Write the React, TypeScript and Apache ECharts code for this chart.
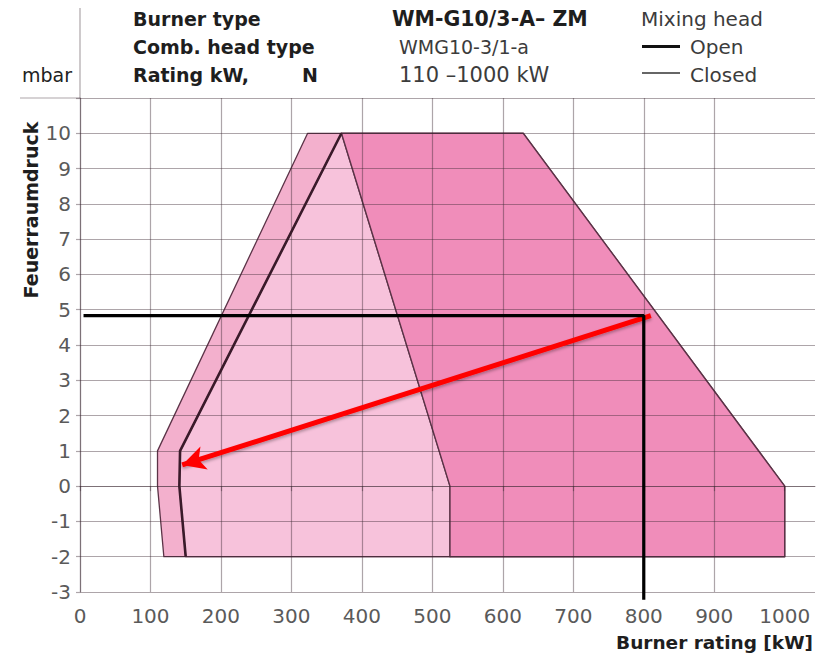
import React, { useEffect, useRef } from "react";
import * as echarts from "echarts";

// ---- data ----
const xTicks = [0, 100, 200, 300, 400, 500, 600, 700, 800, 900, 1000];
const yTicks = [-3, -2, -1, 0, 1, 2, 3, 4, 5, 6, 7, 8, 9, 10];

// outer envelope (left outer boundary + top + right boundary)
const envelopeX = [119, 110, 110, 323, 629, 1000, 1000];
const envelopeY = [-2, 0, 1, 10, 10, 0, -2];
// thick line "Open"
const openLineX = [150, 141, 142, 371];
const openLineY = [-2, 0, 1, 10];
// thin line "Closed"
const closedLineX = [371, 525, 525];
const closedLineY = [10, 0, -2];
// right boundary of the working field
const rightEdgeX = [629, 1000, 1000];
const rightEdgeY = [10, 0, -2];

// operating point construction
const opPointX = 800;
const opPointY = 4.83;
const hLineStartX = 5;
const vLineEndY = -3.22;
const arrowFrom = [810, 4.83];
const arrowTo = [145, 0.6];

const zip = (xs: number[], ys: number[]) => xs.map((x, i) => [x, ys[i]]);

const GRID_COLOR = "rgba(60,40,50,0.42)";
const FONT = '"DejaVu Sans", "Liberation Sans", sans-serif';

export default function App() {
  const ref = useRef<HTMLDivElement>(null);

  useEffect(() => {
    if (!ref.current) return;
    const chart = echarts.init(ref.current, undefined, { renderer: "svg" });

    const envelope = zip(envelopeX, envelopeY);
    const openLine = zip(openLineX, openLineY);
    const closedLine = zip(closedLineX, closedLineY);
    const rightEdge = zip(rightEdgeX, rightEdgeY);
    const highRegion = [closedLine[0], ...rightEdge, ...closedLine.slice(1).reverse()];
    const midRegion = [...openLine, ...closedLine.slice(1)];

    const poly = (pts: number[][], fill: string, stroke: string, lw: number) => ({
      type: "custom",
      z: 1,
      silent: true,
      data: [[0, 0]],
      renderItem: (_p: any, api: any) => ({
        type: "polygon",
        shape: { points: pts.map((p) => api.coord(p)) },
        style: { fill, stroke, lineWidth: lw, lineJoin: "round" },
      }),
    });

    const headerBold = (text: string, x: number, y: number, size = 19) => ({
      type: "text",
      x,
      y,
      style: { text, fill: "#1e1e1e", font: `bold ${size}px ${FONT}`, textVerticalAlign: "middle" },
    });
    const headerReg = (text: string, x: number, y: number, size = 20) => ({
      type: "text",
      x,
      y,
      style: { text, fill: "#3c3c3c", font: `${size}px ${FONT}`, textVerticalAlign: "middle" },
    });

    chart.setOption({
      animation: false,
      backgroundColor: "#ffffff",
      grid: { left: 80, right: 9, top: 98, bottom: 63, containLabel: false },
      xAxis: {
        type: "value",
        min: 0,
        max: 1043,
        interval: 100,
        z: 3,
        axisLine: { show: true, lineStyle: { color: GRID_COLOR, width: 1.2 } },
        axisTick: { show: true, length: 5, customValues: xTicks, lineStyle: { color: GRID_COLOR, width: 1.2 } },
        axisLabel: {
          customValues: xTicks,
          formatter: (v: number) => (xTicks.includes(v) ? String(v) : ""),
          fontSize: 20,
          fontFamily: FONT,
          color: "#5a5a5a",
          margin: 14,
        },
        splitLine: { show: true, showMaxLine: false, lineStyle: { color: GRID_COLOR, width: 1.2 } },
      },
      yAxis: {
        type: "value",
        min: -3,
        max: 11,
        interval: 1,
        z: 3,
        axisLine: { show: true, lineStyle: { color: GRID_COLOR, width: 1.2 } },
        axisTick: { show: true, length: 4, lineStyle: { color: GRID_COLOR, width: 1.2 } },
        axisLabel: {
          formatter: (v: number) => (yTicks.includes(v) ? String(v) : ""),
          fontSize: 20,
          fontFamily: FONT,
          color: "#5a5a5a",
          margin: 9,
        },
        splitLine: { show: true, lineStyle: { color: GRID_COLOR, width: 1.2 } },
      },
      graphic: [
        { type: "line", shape: { x1: 20, y1: 98, x2: 80, y2: 98 }, style: { stroke: GRID_COLOR, lineWidth: 1.2 } },
        { type: "line", shape: { x1: 80, y1: 8, x2: 80, y2: 98 }, style: { stroke: GRID_COLOR, lineWidth: 1.2 } },
        headerBold("Burner type", 133, 19),
        headerBold("Comb. head type", 133, 46.5),
        headerBold("Rating kW,", 133, 74.5),
        headerBold("N", 302, 74.5),
        headerBold("WM-G10/3-A\u2013 ZM", 392, 19, 20.5),
        headerReg("WMG10-3/1-a", 399, 46.5, 19),
        headerReg("110 \u20131000 kW", 399, 74.5, 21),
        headerReg("Mixing head", 641, 19),
        { type: "line", shape: { x1: 642, y1: 46.5, x2: 680, y2: 46.5 }, style: { stroke: "#111", lineWidth: 3 } },
        headerReg("Open", 690, 46.5),
        { type: "line", shape: { x1: 642, y1: 73, x2: 680, y2: 73 }, style: { stroke: "#333", lineWidth: 1.4 } },
        headerReg("Closed", 690, 74.5),
        {
          type: "text",
          x: 22,
          y: 75,
          style: { text: "mbar", fill: "#222", font: `19px ${FONT}`, textVerticalAlign: "middle" },
        },
        {
          type: "text",
          x: 31,
          y: 210,
          rotation: Math.PI / 2,
          style: {
            text: "Feuerraumdruck",
            fill: "#1e1e1e",
            font: `bold 19px ${FONT}`,
            textAlign: "center",
            textVerticalAlign: "middle",
          },
        },
        {
          type: "text",
          x: 813,
          y: 642,
          style: {
            text: "Burner rating [kW]",
            fill: "#1e1e1e",
            font: `bold 18.5px ${FONT}`,
            textAlign: "right",
            textVerticalAlign: "middle",
          },
        },
      ],
      series: [
        poly(envelope, "#f3b0cd", "#5b3347", 1.3),
        poly(midRegion, "#f7c2db", "#5b3347", 1.3),
        poly(highRegion, "#f08dba", "#5b3347", 1.4),
        {
          type: "line",
          z: 5,
          silent: true,
          symbol: "none",
          data: openLine,
          lineStyle: { color: "#3a1a2a", width: 2.6 },
        },
        {
          type: "line",
          z: 6,
          silent: true,
          symbol: "none",
          clip: false,
          data: [
            [hLineStartX, opPointY],
            [opPointX, opPointY],
            [opPointX, vLineEndY],
          ],
          lineStyle: { color: "#000000", width: 3.2 },
          markLine: {
            silent: true,
            symbol: ["none", "arrow"],
            symbolSize: [18, 23],
            label: { show: false },
            lineStyle: {
              color: "#ff0000",
              width: 5,
              type: "solid",
              shadowBlur: 3,
              shadowColor: "rgba(0,0,0,0.3)",
              shadowOffsetY: 2,
            },
            data: [[{ coord: arrowFrom }, { coord: arrowTo }]],
          },
        },
      ],
    });

    return () => chart.dispose();
  }, []);

  return (
    <div
      ref={ref}
      style={{ position: "absolute", left: 0, top: 0, width: 824, height: 655 }}
    />
  );
}
